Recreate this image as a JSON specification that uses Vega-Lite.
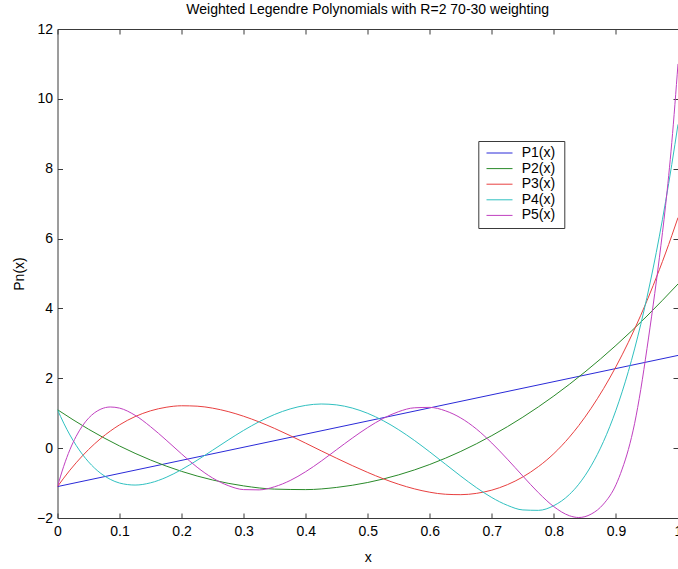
{
  "$schema": "https://vega.github.io/schema/vega-lite/v6.json",
  "width": 620.5,
  "height": 489,
  "autosize": {"type": "none"},
  "padding": {"left": 57.5, "top": 29, "right": 0, "bottom": 51},
  "background": "white",
  "title": {
    "text": "Weighted Legendre Polynomials with R=2 70-30 weighting",
    "font": "Liberation Sans",
    "fontSize": 14,
    "fontWeight": "normal",
    "color": "black",
    "anchor": "middle",
    "frame": "group",
    "baseline": "alphabetic",
    "offset": -6
  },
  "config": {
    "font": "Liberation Sans",
    "view": {"stroke": null},
    "axis": {
      "grid": false,
      "domainColor": "#3a3a3a",
      "tickColor": "#3a3a3a",
      "tickSize": -5,
      "labelColor": "black",
      "labelFont": "Liberation Sans",
      "labelFontSize": 14,
      "labelFlush": false,
      "labelOverlap": false,
      "labelBound": false,
      "titleColor": "black",
      "titleFont": "Liberation Sans",
      "titleFontSize": 14,
      "titleFontWeight": "normal"
    },
    "legend": {
      "symbolType": "M-2,0H2",
      "symbolSize": 169,
      "symbolStrokeWidth": 1,
      "symbolOffset": 9.2,
      "labelOffset": 15.2,
      "labelFont": "Liberation Sans",
      "labelFontSize": 14,
      "labelColor": "black",
      "padding": 5,
      "rowPadding": 1.6,
      "strokeColor": "#3a3a3a",
      "fillColor": "white"
    }
  },
  "layer": [
    {
      "data": {"name": "curves"},
      "mark": {"type": "line", "strokeWidth": 1, "interpolate": "monotone", "clip": true},
      "encoding": {
        "x": {
          "field": "x", "type": "quantitative",
          "scale": {"domain": [0, 1], "nice": false, "zero": false},
          "axis": {
            "orient": "bottom",
            "values": [0, 0.1, 0.2, 0.3, 0.4, 0.5, 0.6, 0.7, 0.8, 0.9, 1],
            "format": "~g",
            "labelPadding": 11,
            "title": "x",
            "titleX": 310.25,
            "titleY": 43,
            "titleBaseline": "alphabetic"
          }
        },
        "y": {
          "field": "y", "type": "quantitative",
          "scale": {"domain": [-2, 12], "nice": false, "zero": false},
          "axis": {
            "orient": "left",
            "values": [-2, 0, 2, 4, 6, 8, 10, 12],
            "labelPadding": 10,
            "title": "Pn(x)",
            "titleAngle": -90,
            "titleX": -34.5,
            "titleY": 244.5,
            "titleBaseline": "alphabetic"
          }
        },
        "color": {
          "field": "series", "type": "nominal",
          "scale": {
            "domain": ["P1(x)", "P2(x)", "P3(x)", "P4(x)", "P5(x)"],
            "range": ["#2a2ad8", "#2a8a2a", "#e84040", "#30c0c0", "#c040c0"]
          },
          "legend": {
            "title": "\u00a0",
            "titleOrient": "right",
            "titlePadding": 4,
            "orient": "none",
            "legendX": 420.8,
            "legendY": 112
          }
        },
        "order": {"field": "x", "type": "quantitative"}
      }
    },
    {
      "data": {"values": []},
      "mark": {"type": "point", "opacity": 0},
      "encoding": {
        "x": {
          "field": "x", "type": "quantitative",
          "axis": {
            "orient": "top",
            "values": [0, 0.1, 0.2, 0.3, 0.4, 0.5, 0.6, 0.7, 0.8, 0.9, 1],
            "labels": false,
            "title": null,
            "minExtent": 0,
            "maxExtent": 0
          }
        },
        "y": {
          "field": "y", "type": "quantitative",
          "axis": {
            "orient": "right",
            "values": [-2, 0, 2, 4, 6, 8, 10, 12],
            "labels": false,
            "title": null,
            "minExtent": 0,
            "maxExtent": 0
          }
        }
      }
    }
  ],
  "datasets": {
    "curves": [
      {"series": "P1(x)", "x": 0, "y": -1.1},
      {"series": "P1(x)", "x": 1, "y": 2.655},

      {"series": "P2(x)", "x": 0, "y": 1.1},
      {"series": "P2(x)", "x": 0.05, "y": 0.542},
      {"series": "P2(x)", "x": 0.1, "y": 0.062},
      {"series": "P2(x)", "x": 0.15, "y": -0.34},
      {"series": "P2(x)", "x": 0.2, "y": -0.665},
      {"series": "P2(x)", "x": 0.25, "y": -0.912},
      {"series": "P2(x)", "x": 0.3, "y": -1.081},
      {"series": "P2(x)", "x": 0.35, "y": -1.173},
      {"series": "P2(x)", "x": 0.4, "y": -1.187},
      {"series": "P2(x)", "x": 0.45, "y": -1.124},
      {"series": "P2(x)", "x": 0.5, "y": -0.983},
      {"series": "P2(x)", "x": 0.55, "y": -0.764},
      {"series": "P2(x)", "x": 0.6, "y": -0.467},
      {"series": "P2(x)", "x": 0.65, "y": -0.093},
      {"series": "P2(x)", "x": 0.7, "y": 0.359},
      {"series": "P2(x)", "x": 0.75, "y": 0.888},
      {"series": "P2(x)", "x": 0.8, "y": 1.495},
      {"series": "P2(x)", "x": 0.85, "y": 2.18},
      {"series": "P2(x)", "x": 0.9, "y": 2.942},
      {"series": "P2(x)", "x": 0.95, "y": 3.782},
      {"series": "P2(x)", "x": 1, "y": 4.7},

      {"series": "P3(x)", "x": 0, "y": -1.1},
      {"series": "P3(x)", "x": 0.01, "y": -0.858},
      {"series": "P3(x)", "x": 0.02, "y": -0.631},
      {"series": "P3(x)", "x": 0.03, "y": -0.42},
      {"series": "P3(x)", "x": 0.04, "y": -0.223},
      {"series": "P3(x)", "x": 0.05, "y": -0.041},
      {"series": "P3(x)", "x": 0.06, "y": 0.127},
      {"series": "P3(x)", "x": 0.07, "y": 0.282},
      {"series": "P3(x)", "x": 0.085, "y": 0.488},
      {"series": "P3(x)", "x": 0.1, "y": 0.667},
      {"series": "P3(x)", "x": 0.125, "y": 0.903},
      {"series": "P3(x)", "x": 0.15, "y": 1.069},
      {"series": "P3(x)", "x": 0.175, "y": 1.17},
      {"series": "P3(x)", "x": 0.2, "y": 1.213},
      {"series": "P3(x)", "x": 0.225, "y": 1.202},
      {"series": "P3(x)", "x": 0.25, "y": 1.145},
      {"series": "P3(x)", "x": 0.275, "y": 1.047},
      {"series": "P3(x)", "x": 0.3, "y": 0.913},
      {"series": "P3(x)", "x": 0.325, "y": 0.75},
      {"series": "P3(x)", "x": 0.35, "y": 0.563},
      {"series": "P3(x)", "x": 0.375, "y": 0.358},
      {"series": "P3(x)", "x": 0.4, "y": 0.142},
      {"series": "P3(x)", "x": 0.425, "y": -0.077},
      {"series": "P3(x)", "x": 0.45, "y": -0.291},
      {"series": "P3(x)", "x": 0.475, "y": -0.499},
      {"series": "P3(x)", "x": 0.5, "y": -0.696},
      {"series": "P3(x)", "x": 0.525, "y": -0.877},
      {"series": "P3(x)", "x": 0.55, "y": -1.035},
      {"series": "P3(x)", "x": 0.575, "y": -1.165},
      {"series": "P3(x)", "x": 0.6, "y": -1.262},
      {"series": "P3(x)", "x": 0.625, "y": -1.32},
      {"series": "P3(x)", "x": 0.65, "y": -1.332},
      {"series": "P3(x)", "x": 0.675, "y": -1.295},
      {"series": "P3(x)", "x": 0.7, "y": -1.202},
      {"series": "P3(x)", "x": 0.725, "y": -1.046},
      {"series": "P3(x)", "x": 0.75, "y": -0.824},
      {"series": "P3(x)", "x": 0.775, "y": -0.529},
      {"series": "P3(x)", "x": 0.8, "y": -0.155},
      {"series": "P3(x)", "x": 0.825, "y": 0.316},
      {"series": "P3(x)", "x": 0.84, "y": 0.646},
      {"series": "P3(x)", "x": 0.86, "y": 1.142},
      {"series": "P3(x)", "x": 0.88, "y": 1.703},
      {"series": "P3(x)", "x": 0.9, "y": 2.331},
      {"series": "P3(x)", "x": 0.91, "y": 2.672},
      {"series": "P3(x)", "x": 0.92, "y": 3.031},
      {"series": "P3(x)", "x": 0.93, "y": 3.408},
      {"series": "P3(x)", "x": 0.94, "y": 3.805},
      {"series": "P3(x)", "x": 0.95, "y": 4.22},
      {"series": "P3(x)", "x": 0.96, "y": 4.655},
      {"series": "P3(x)", "x": 0.97, "y": 5.111},
      {"series": "P3(x)", "x": 0.98, "y": 5.586},
      {"series": "P3(x)", "x": 0.99, "y": 6.083},
      {"series": "P3(x)", "x": 1, "y": 6.6},

      {"series": "P4(x)", "x": 0, "y": 1.1},
      {"series": "P4(x)", "x": 0.01, "y": 0.716},
      {"series": "P4(x)", "x": 0.02, "y": 0.377},
      {"series": "P4(x)", "x": 0.03, "y": 0.081},
      {"series": "P4(x)", "x": 0.04, "y": -0.175},
      {"series": "P4(x)", "x": 0.05, "y": -0.393},
      {"series": "P4(x)", "x": 0.06, "y": -0.576},
      {"series": "P4(x)", "x": 0.07, "y": -0.726},
      {"series": "P4(x)", "x": 0.085, "y": -0.893},
      {"series": "P4(x)", "x": 0.1, "y": -0.999},
      {"series": "P4(x)", "x": 0.125, "y": -1.057},
      {"series": "P4(x)", "x": 0.15, "y": -0.993},
      {"series": "P4(x)", "x": 0.175, "y": -0.837},
      {"series": "P4(x)", "x": 0.2, "y": -0.613},
      {"series": "P4(x)", "x": 0.225, "y": -0.347},
      {"series": "P4(x)", "x": 0.25, "y": -0.059},
      {"series": "P4(x)", "x": 0.275, "y": 0.232},
      {"series": "P4(x)", "x": 0.3, "y": 0.509},
      {"series": "P4(x)", "x": 0.325, "y": 0.757},
      {"series": "P4(x)", "x": 0.35, "y": 0.965},
      {"series": "P4(x)", "x": 0.375, "y": 1.123},
      {"series": "P4(x)", "x": 0.4, "y": 1.224},
      {"series": "P4(x)", "x": 0.425, "y": 1.264},
      {"series": "P4(x)", "x": 0.45, "y": 1.238},
      {"series": "P4(x)", "x": 0.475, "y": 1.148},
      {"series": "P4(x)", "x": 0.5, "y": 0.996},
      {"series": "P4(x)", "x": 0.525, "y": 0.786},
      {"series": "P4(x)", "x": 0.55, "y": 0.525},
      {"series": "P4(x)", "x": 0.575, "y": 0.223},
      {"series": "P4(x)", "x": 0.6, "y": -0.109},
      {"series": "P4(x)", "x": 0.625, "y": -0.456},
      {"series": "P4(x)", "x": 0.65, "y": -0.802},
      {"series": "P4(x)", "x": 0.675, "y": -1.129},
      {"series": "P4(x)", "x": 0.7, "y": -1.415},
      {"series": "P4(x)", "x": 0.725, "y": -1.637},
      {"series": "P4(x)", "x": 0.75, "y": -1.769},
      {"series": "P4(x)", "x": 0.775, "y": -1.781},
      {"series": "P4(x)", "x": 0.8, "y": -1.645},
      {"series": "P4(x)", "x": 0.825, "y": -1.327},
      {"series": "P4(x)", "x": 0.84, "y": -1.034},
      {"series": "P4(x)", "x": 0.86, "y": -0.507},
      {"series": "P4(x)", "x": 0.88, "y": 0.192},
      {"series": "P4(x)", "x": 0.9, "y": 1.086},
      {"series": "P4(x)", "x": 0.91, "y": 1.613},
      {"series": "P4(x)", "x": 0.92, "y": 2.197},
      {"series": "P4(x)", "x": 0.93, "y": 2.84},
      {"series": "P4(x)", "x": 0.94, "y": 3.546},
      {"series": "P4(x)", "x": 0.95, "y": 4.317},
      {"series": "P4(x)", "x": 0.96, "y": 5.158},
      {"series": "P4(x)", "x": 0.97, "y": 6.07},
      {"series": "P4(x)", "x": 0.98, "y": 7.057},
      {"series": "P4(x)", "x": 0.99, "y": 8.123},
      {"series": "P4(x)", "x": 1, "y": 9.27},

      {"series": "P5(x)", "x": 0, "y": -1.1},
      {"series": "P5(x)", "x": 0.01, "y": -0.52},
      {"series": "P5(x)", "x": 0.02, "y": -0.043},
      {"series": "P5(x)", "x": 0.03, "y": 0.336},
      {"series": "P5(x)", "x": 0.04, "y": 0.633},
      {"series": "P5(x)", "x": 0.05, "y": 0.858},
      {"series": "P5(x)", "x": 0.06, "y": 1.016},
      {"series": "P5(x)", "x": 0.07, "y": 1.118},
      {"series": "P5(x)", "x": 0.085, "y": 1.178},
      {"series": "P5(x)", "x": 0.1, "y": 1.146},
      {"series": "P5(x)", "x": 0.125, "y": 0.941},
      {"series": "P5(x)", "x": 0.15, "y": 0.614},
      {"series": "P5(x)", "x": 0.175, "y": 0.233},
      {"series": "P5(x)", "x": 0.2, "y": -0.166},
      {"series": "P5(x)", "x": 0.225, "y": -0.546},
      {"series": "P5(x)", "x": 0.25, "y": -0.855},
      {"series": "P5(x)", "x": 0.275, "y": -1.072},
      {"series": "P5(x)", "x": 0.3, "y": -1.187},
      {"series": "P5(x)", "x": 0.325, "y": -1.195},
      {"series": "P5(x)", "x": 0.35, "y": -1.104},
      {"series": "P5(x)", "x": 0.375, "y": -0.926},
      {"series": "P5(x)", "x": 0.4, "y": -0.674},
      {"series": "P5(x)", "x": 0.425, "y": -0.371},
      {"series": "P5(x)", "x": 0.45, "y": -0.041},
      {"series": "P5(x)", "x": 0.475, "y": 0.286},
      {"series": "P5(x)", "x": 0.5, "y": 0.591},
      {"series": "P5(x)", "x": 0.525, "y": 0.852},
      {"series": "P5(x)", "x": 0.55, "y": 1.046},
      {"series": "P5(x)", "x": 0.575, "y": 1.155},
      {"series": "P5(x)", "x": 0.6, "y": 1.167},
      {"series": "P5(x)", "x": 0.625, "y": 1.07},
      {"series": "P5(x)", "x": 0.65, "y": 0.863},
      {"series": "P5(x)", "x": 0.675, "y": 0.55},
      {"series": "P5(x)", "x": 0.7, "y": 0.146},
      {"series": "P5(x)", "x": 0.725, "y": -0.315},
      {"series": "P5(x)", "x": 0.75, "y": -0.801},
      {"series": "P5(x)", "x": 0.775, "y": -1.274},
      {"series": "P5(x)", "x": 0.8, "y": -1.676},
      {"series": "P5(x)", "x": 0.825, "y": -1.935},
      {"series": "P5(x)", "x": 0.84, "y": -1.986},
      {"series": "P5(x)", "x": 0.86, "y": -1.889},
      {"series": "P5(x)", "x": 0.88, "y": -1.6},
      {"series": "P5(x)", "x": 0.9, "y": -1.05},
      {"series": "P5(x)", "x": 0.91, "y": -0.6},
      {"series": "P5(x)", "x": 0.92, "y": -0.04},
      {"series": "P5(x)", "x": 0.93, "y": 0.7},
      {"series": "P5(x)", "x": 0.94, "y": 1.68},
      {"series": "P5(x)", "x": 0.95, "y": 2.85},
      {"series": "P5(x)", "x": 0.96, "y": 4.1},
      {"series": "P5(x)", "x": 0.97, "y": 5.45},
      {"series": "P5(x)", "x": 0.98, "y": 6.95},
      {"series": "P5(x)", "x": 0.99, "y": 8.75},
      {"series": "P5(x)", "x": 1, "y": 11.0}
    ]
  }
}
